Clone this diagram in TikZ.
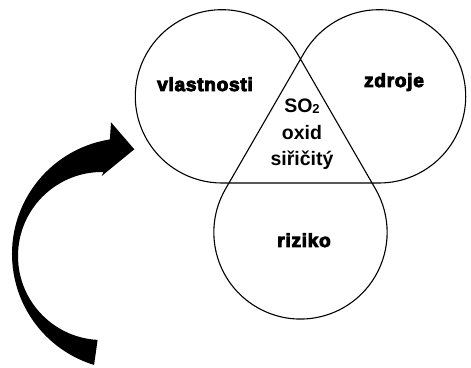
\documentclass[tikz,border=0pt]{standalone}
\usepackage{fontspec}
\setmainfont{Liberation Sans}
\newfontfamily\heavyfont[FakeBold=5,LetterSpace=4]{Liberation Sans Bold}
\usetikzlibrary{calc}

\begin{document}
\begin{tikzpicture}[x=1pt,y=1pt,
    lobe/.style={line width=1.1pt,line join=round},
    lobetext/.style={font=\heavyfont\fontsize{19}{24}\selectfont,inner sep=0pt,anchor=base},
    coretext/.style={font=\bfseries\fontsize{19.5}{22}\selectfont,inner sep=0pt,anchor=base}]
    \useasboundingbox (0,0) rectangle (471,367);
    \def\R{86.65}
    % three lobes round an equilateral core
    \coordinate (O) at (300.5,225.3);
    \coordinate (cl) at ($(O)+(150:90.7)$);
    \coordinate (cr) at ($(O)+(30:90.7)$);
    \coordinate (cb) at ($(O)+(270:90.7)$);
    \draw[lobe] ($(cl)+(30:\R)$) arc[start angle=30,end angle=270,radius=\R]
        -- ($(cr)+(270:\R)$) arc[start angle=270,end angle=510,radius=\R]
        -- ($(cb)+(150:\R)$) arc[start angle=150,end angle=390,radius=\R]
        -- cycle;
    \node[lobetext] (vlastnosti) at (205,276) {vlastnosti};
    \node[lobetext] (zdroje) at (394,280) {zdroje};
    \node[lobetext] (riziko) at (304,120) {riziko};
    \node[coretext] (so2) at (302,254) {SO{\fontsize{13}{13}\selectfont\raisebox{-1pt}{2}}};
    \node[coretext] (oxid) at (302,227) {oxid};
    \node[coretext] (siricity) at (302,201.3) {siřičitý};
    % curved arrow
    \coordinate (tail) at ($(102,111)+(267:84)$);
    \coordinate (barbl) at (101.7,191);
    \coordinate (tip) at (134.3,217.7);
    \coordinate (barbu) at (111,244.7);
    \coordinate (neck) at ($(128,113)+(99:116)$);
    \fill (tail) arc[start angle=267,end angle=89,radius=84] -- (barbl) -- (tip)
        -- (barbu) -- (neck) arc[start angle=99,end angle=253,radius=116] -- cycle;
\end{tikzpicture}
\end{document}
